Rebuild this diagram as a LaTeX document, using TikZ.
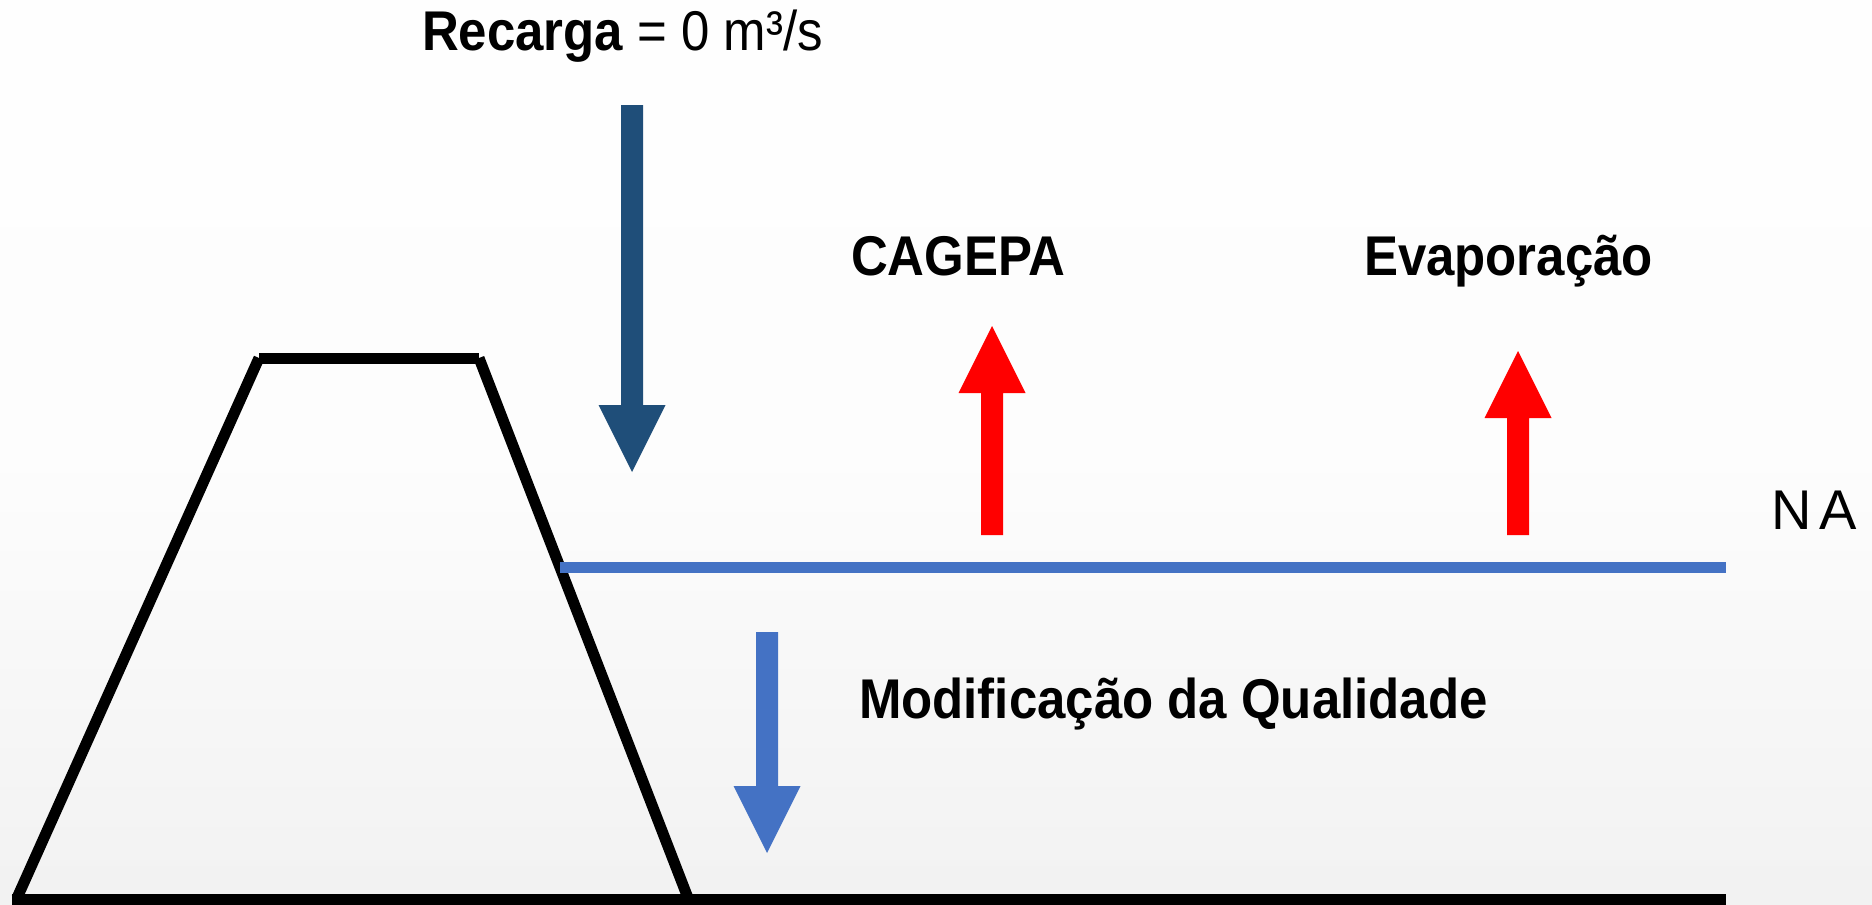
\documentclass[tikz,border=0pt]{standalone}
\usepackage{fontspec}
\setmainfont{Liberation Sans}[FakeStretch=0.91]
\newfontfamily\plainsans{Liberation Sans}
\definecolor{recblue}{HTML}{1F4E79}
\definecolor{nablue}{HTML}{4472C4}
\definecolor{outred}{HTML}{FF0000}
\definecolor{bgmid}{HTML}{FDFDFD}
\definecolor{bgbot}{HTML}{E6E6E6}
\pgfdeclareverticalshading{bgshade}{100bp}{color(0bp)=(bgbot); color(50bp)=(bgmid); color(100bp)=(white)}
\tikzset{
  dam/.style={line width=11pt, line cap=butt, black},
  naline/.style={line width=11pt, line cap=butt, nablue},
  lbl/.style={inner sep=0pt, outer sep=0pt, anchor=base west, font=\fontsize{56}{60}\selectfont},
  nalbl/.style={inner sep=0pt, outer sep=0pt, anchor=base west, font=\plainsans\fontsize{56}{60}\selectfont},
}
\begin{document}
\begin{tikzpicture}[x=1pt,y=-1pt]
  % background
  \shade[shading=bgshade] (0,0) rectangle (1872,905);
  \useasboundingbox (0,0) rectangle (1872,905);

  % dam (trapezoid) and ground
  \coordinate (tl) at (259,358);
  \coordinate (tr) at (479,358);
  \coordinate (bl) at (17,898);
  \coordinate (br) at (688,898);
  \coordinate (gnd) at (1726,898);
  \draw[dam] (tl) -- (tr);
  \draw[dam] (tl) -- (bl);
  \draw[dam] (tr) -- (br);
  \draw[dam] (12,899) -- (gnd |- 0,899);

  % water level
  \coordinate (wl) at (560,567);
  \coordinate (wr) at (1726,567);
  \draw[naline] (wl) -- (wr);

  % recharge arrow (down)
  \fill[recblue] (621,105) -- (643,105) -- (643,405) -- (665.5,405) -- (632,472) -- (598.5,405) -- (621,405) -- cycle;
  % CAGEPA arrow (up)
  \fill[outred] (981,535) -- (1003,535) -- (1003,393) -- (1025.5,393) -- (992,326) -- (958.5,393) -- (981,393) -- cycle;
  % evaporation arrow (up)
  \fill[outred] (1507,535) -- (1529,535) -- (1529,418) -- (1551.5,418) -- (1518,351) -- (1484.5,418) -- (1507,418) -- cycle;
  % quality arrow (down)
  \fill[nablue] (756,632) -- (778,632) -- (778,786) -- (800.5,786) -- (767,853) -- (733.5,786) -- (756,786) -- cycle;

  % labels
  \node[lbl] (recarga) at (422,50) {\textbf{Recarga} = 0 m³/s};
  \node[lbl] (cagepa) at (851,275) {\textbf{CAGEPA}};
  \node[lbl] (evap) at (1364,275) {\textbf{Evaporação}};
  \node[lbl] (qual) at (859,718) {\textbf{Modificação da Qualidade}};
  \node[nalbl] (na) at (1771,529) {N\kern8pt A};
\end{tikzpicture}
\end{document}
